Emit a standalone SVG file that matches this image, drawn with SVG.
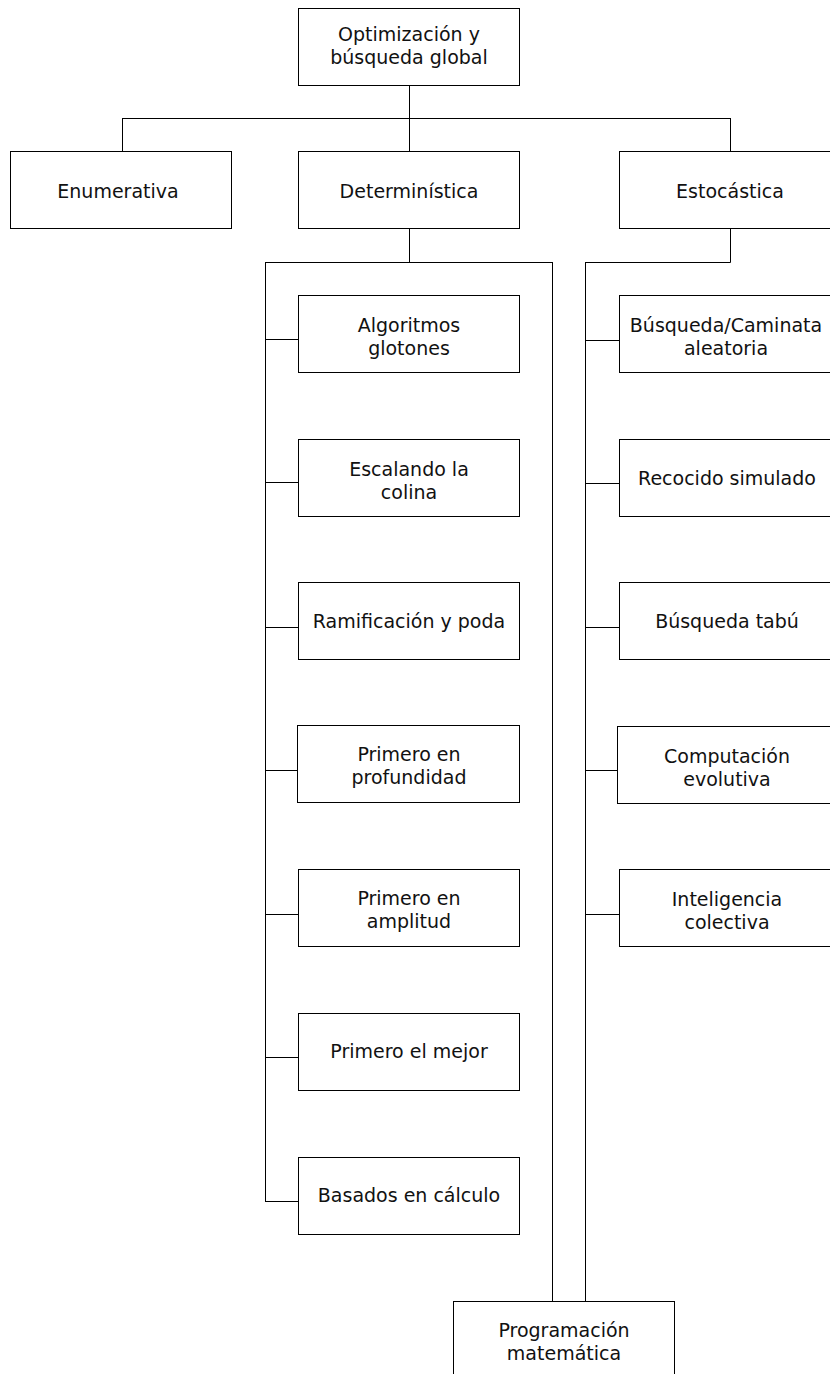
<svg xmlns="http://www.w3.org/2000/svg" width="830" height="1374" viewBox="0 0 830 1374">
<style>
.box{fill:#fff;stroke:#000;stroke-width:1}
.t{font-family:"DejaVu Sans",sans-serif;font-size:19px;fill:#111;text-anchor:middle}
.c{stroke:#000;stroke-width:1;fill:none}
</style>
<rect width="830" height="1374" fill="#fff"/>
<g id="connectors">
<path class="c" d="M409.5,85 V151 M122.5,118.5 H730.5 M122.5,118 V151 M730.5,118 V151"/>
<path class="c" d="M409.5,228 V262.5 M265.5,262.5 H552.5 M265.5,262 V1201.5 M552.5,262 V1301"/>
<path class="c" d="M265 339.5 H298 M265 482.5 H298 M265 627.5 H298 M265 770.5 H298 M265 914.5 H298 M265 1057.5 H298 M265 1201.5 H298"/>
<path class="c" d="M730.5,228 V262.5 M585.5,262.5 H730.5 M585.5,262 V1301"/>
<path class="c" d="M585 340.5 H619 M585 483.5 H619 M585 627.5 H619 M585 770.5 H617 M585 914.5 H619"/>
</g>
<g id="root"><rect class="box" x="298.5" y="8.5" width="221" height="77"/>
<text class="t" x="409" y="41">Optimización y</text><text class="t" x="409" y="64">búsqueda global</text></g>
<g id="enumerativa"><rect class="box" x="10.5" y="151.5" width="221" height="77"/>
<text class="t" x="118" y="198">Enumerativa</text></g>
<g id="deterministica"><rect class="box" x="298.5" y="151.5" width="221" height="77"/>
<text class="t" x="409" y="198">Determinística</text></g>
<g id="estocastica"><rect class="box" x="619.5" y="151.5" width="222" height="77"/>
<text class="t" x="730" y="198">Estocástica</text></g>
<g id="algoritmos"><rect class="box" x="298.5" y="295.5" width="221" height="77"/>
<text class="t" x="409" y="332">Algoritmos</text><text class="t" x="409" y="355">glotones</text></g>
<g id="escalando"><rect class="box" x="298.5" y="439.5" width="221" height="77"/>
<text class="t" x="409" y="476">Escalando la</text><text class="t" x="409" y="499">colina</text></g>
<g id="ramificacion"><rect class="box" x="298.5" y="582.5" width="221" height="77"/>
<text class="t" x="409" y="628">Ramificación y poda</text></g>
<g id="profundidad"><rect class="box" x="297.5" y="725.5" width="222" height="77"/>
<text class="t" x="409" y="761">Primero en</text><text class="t" x="409" y="784">profundidad</text></g>
<g id="amplitud"><rect class="box" x="298.5" y="869.5" width="221" height="77"/>
<text class="t" x="409" y="905">Primero en</text><text class="t" x="409" y="928">amplitud</text></g>
<g id="mejor"><rect class="box" x="298.5" y="1013.5" width="221" height="77"/>
<text class="t" x="409" y="1058">Primero el mejor</text></g>
<g id="calculo"><rect class="box" x="298.5" y="1157.5" width="221" height="77"/>
<text class="t" x="409" y="1202">Basados en cálculo</text></g>
<g id="busqueda"><rect class="box" x="619.5" y="295.5" width="222" height="77"/>
<text class="t" x="726" y="332">Búsqueda/Caminata</text><text class="t" x="726" y="355">aleatoria</text></g>
<g id="recocido"><rect class="box" x="619.5" y="439.5" width="222" height="77"/>
<text class="t" x="727" y="485">Recocido simulado</text></g>
<g id="tabu"><rect class="box" x="619.5" y="582.5" width="222" height="77"/>
<text class="t" x="727" y="628">Búsqueda tabú</text></g>
<g id="evolutiva"><rect class="box" x="617.5" y="726.5" width="224" height="77"/>
<text class="t" x="727" y="763">Computación</text><text class="t" x="727" y="786">evolutiva</text></g>
<g id="colectiva"><rect class="box" x="619.5" y="869.5" width="222" height="77"/>
<text class="t" x="727" y="906">Inteligencia</text><text class="t" x="727" y="929">colectiva</text></g>
<g id="programacion"><rect class="box" x="453.5" y="1301.5" width="221" height="77"/>
<text class="t" x="564" y="1337">Programación</text><text class="t" x="564" y="1360">matemática</text></g>
</svg>
